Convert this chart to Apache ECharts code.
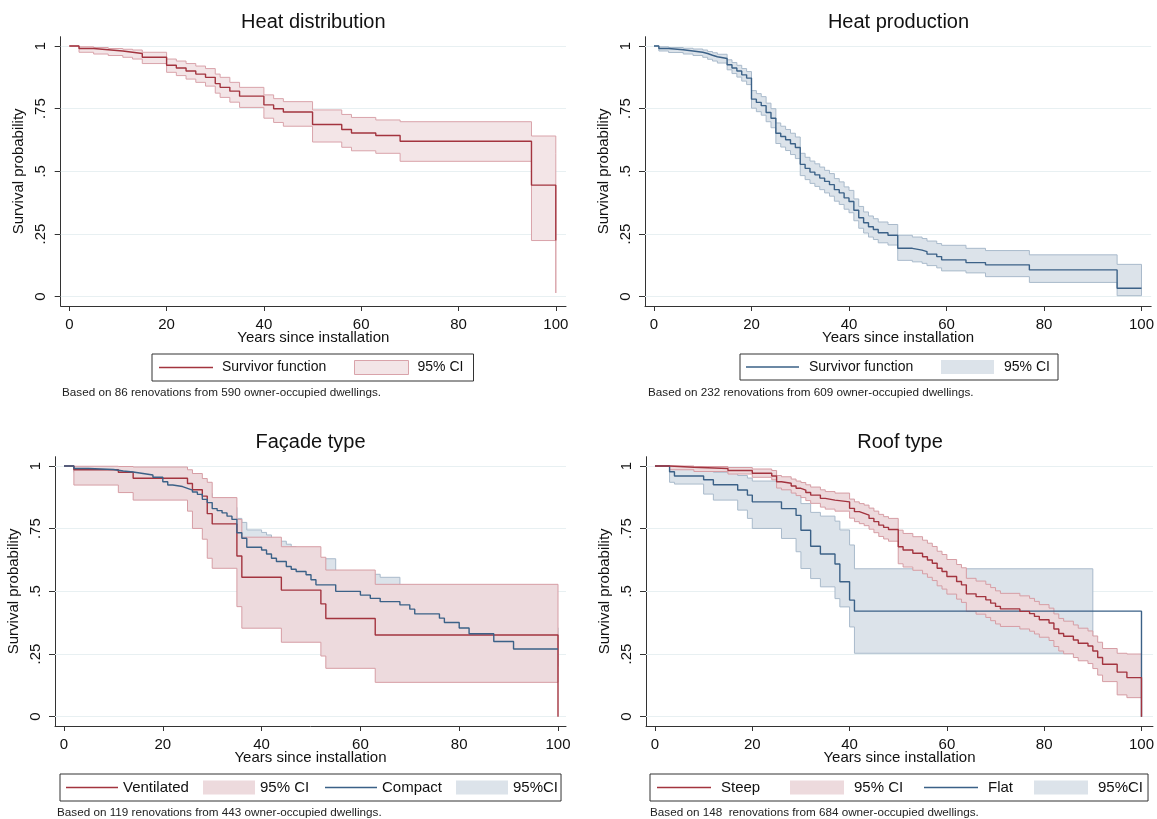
<!DOCTYPE html>
<html>
<head>
<meta charset="utf-8">
<title>Survival by component</title>
<script src="https://cdn.jsdelivr.net/npm/echarts@6/dist/echarts.min.js"></script>
<style>
  html, body { margin: 0; padding: 0; background: #fff; }
  #chart { width: 1157px; height: 819px; }
</style>
</head>
<body>
<div id="chart"></div>
<script>
// ticks shared by all four panels
const xTicks = [0, 20, 40, 60, 80, 100]
const yTicks = [0, 0.25, 0.5, 0.75, 1]

// Heat distribution
const distT = [0, 2, 5, 8, 11, 13, 15, 20, 22, 24, 26, 28, 30, 31, 33, 35, 40, 42, 44, 50, 56, 58, 63, 68, 95, 100]
const distS = [1, .99, .985, .98, .975, .97, .955, .923, .912, .90, .888, .875, .85, .835, .82, .80, .765, .75, .737, .687, .667, .653, .643, .62, .445, .224]
const distHi = [1, .997, .994, .99, .987, .984, .975, .948, .94, .93, .92, .91, .888, .875, .855, .835, .805, .79, .778, .745, .727, .715, .705, .698, .641, .572]
const distLo = [1, .975, .968, .962, .955, .948, .93, .895, .882, .868, .855, .84, .812, .795, .776, .755, .712, .695, .68, .617, .596, .582, .572, .54, .224, .015]

// Heat production
const prodT = [0, 1, 3, 6, 8, 10, 11, 12, 13, 15, 16, 17, 18, 19, 20, 21, 22, 23, 24, 25, 26, 27, 28, 29, 30, 31, 32, 33, 34, 35, 36, 37, 38, 39, 40, 41, 42, 43, 44, 45, 46, 48, 50, 53, 55, 56, 58, 59, 64, 68, 77, 95, 100]
const prodS = [1, .99, .985, .98, .975, .97, .963, .957, .95, .925, .912, .90, .885, .872, .788, .775, .762, .735, .712, .652, .639, .626, .61, .595, .528, .512, .497, .486, .473, .46, .447, .427, .414, .394, .38, .345, .315, .295, .279, .268, .255, .245, .193, .186, .18, .17, .16, .147, .136, .127, .107, .034, .034]
const prodHi = [1, .997, .994, .991, .988, .984, .978, .973, .967, .945, .934, .923, .91, .898, .822, .81, .798, .772, .75, .693, .68, .667, .652, .637, .572, .556, .541, .53, .517, .504, .491, .471, .458, .438, .424, .39, .36, .338, .322, .311, .298, .288, .245, .238, .232, .222, .212, .205, .193, .184, .167, .129, .129]
const prodLo = [1, .98, .974, .968, .962, .955, .947, .94, .932, .905, .89, .876, .86, .846, .752, .738, .724, .698, .674, .611, .597, .583, .567, .551, .483, .467, .452, .44, .427, .414, .401, .381, .368, .349, .335, .303, .273, .254, .238, .228, .215, .206, .145, .139, .133, .124, .115, .103, .095, .08, .057, .004, .004]

// Facade type: ventilated
const ventT = [0, 2, 11, 14, 25, 26, 28, 29, 30, 35, 36, 44, 52, 53, 63, 100]
const ventS = [1, .985, .975, .951, .93, .905, .88, .81, .769, .641, .556, .505, .45, .392, .326, 0]
const ventHi = [1, .999, .998, .996, .985, .97, .95, .935, .874, .787, .716, .678, .636, .585, .528, .528]
const ventLo = [1, .924, .894, .864, .82, .751, .708, .632, .592, .439, .353, .297, .242, .193, .137, .137]

// Facade type: compact
const compT = [0, 2, 5, 10, 12, 14, 16, 18, 20, 21, 22, 24, 25, 26, 27, 28, 29, 30, 31, 32, 33, 34, 35, 36, 37, 40, 41, 42, 43, 45, 46, 47, 49, 50, 51, 55, 60, 62, 64, 68, 70, 71, 76, 77, 80, 82, 87, 91, 100]
const compS = [1, .99, .986, .98, .976, .97, .964, .955, .937, .924, .918, .911, .904, .896, .887, .867, .854, .83, .822, .813, .80, .787, .734, .712, .676, .665, .649, .632, .619, .599, .588, .579, .566, .546, .526, .50, .485, .472, .459, .446, .429, .41, .393, .376, .354, .331, .30, .27, .27]
const compHi = [1, .998, .996, .993, .99, .987, .983, .978, .964, .955, .95, .945, .94, .934, .927, .903, .89, .87, .865, .855, .845, .835, .791, .775, .745, .735, .725, .71, .70, .688, .678, .672, .66, .645, .63, .58, .575, .568, .556, .525, .51, .492, .475, .458, .44, .415, .385, .355, .355]
const compLo = [1, .975, .968, .96, .954, .947, .94, .93, .908, .893, .886, .877, .869, .859, .849, .827, .812, .786, .777, .767, .753, .739, .684, .661, .624, .612, .595, .577, .563, .542, .531, .521, .507, .487, .466, .44, .424, .411, .397, .383, .365, .346, .328, .311, .288, .264, .232, .2, .2]

// Roof type: steep
const steepT = [0, 3, 8, 15, 20, 24, 25, 26, 28, 29, 30, 31, 32, 34, 35, 37, 40, 41, 42, 43, 44, 45, 46, 47, 48, 50, 51, 53, 55, 56, 57, 58, 59, 60, 62, 63, 64, 66, 68, 69, 70, 71, 75, 77, 78, 79, 81, 82, 83, 84, 86, 87, 89, 90, 91, 92, 95, 97, 100]
const steepS = [1, .995, .99, .982, .971, .96, .937, .931, .92, .911, .904, .894, .884, .871, .864, .857, .831, .818, .811, .804, .791, .778, .764, .755, .747, .678, .665, .652, .638, .625, .612, .592, .579, .559, .539, .526, .49, .479, .466, .453, .44, .43, .42, .411, .40, .387, .374, .35, .332, .321, .306, .293, .282, .262, .236, .209, .178, .156, 0]
const steepHi = [1, 1, .998, .994, .988, .982, .962, .957, .948, .94, .934, .925, .916, .905, .898, .892, .868, .857, .85, .844, .832, .82, .807, .798, .791, .744, .731, .718, .704, .692, .679, .66, .647, .627, .607, .594, .552, .541, .528, .515, .502, .492, .482, .472, .46, .447, .433, .41, .392, .381, .366, .353, .342, .322, .297, .272, .253, .25, .25]
const steepLo = [1, .985, .978, .968, .955, .945, .912, .905, .892, .882, .874, .862, .851, .836, .828, .82, .792, .778, .77, .762, .748, .734, .719, .709, .70, .61, .597, .584, .57, .556, .543, .522, .509, .489, .469, .456, .42, .409, .396, .383, .37, .36, .35, .341, .33, .317, .304, .28, .262, .251, .236, .223, .212, .192, .166, .14, .087, .076, .076]

// Roof type: flat (CI stops at 90)
const flatT = [0, 3, 4, 10, 12, 17, 19, 20, 26, 29, 30, 32, 34, 37, 38, 40, 41, 90, 100]
const flatS = [1, .977, .96, .945, .925, .904, .884, .857, .83, .803, .744, .68, .649, .609, .538, .465, .421, .421, 0]
const flatHi = [1, .998, .993, .985, .975, .962, .952, .94, .925, .905, .85, .815, .80, .78, .745, .685, .59, .59, null]
const flatLo = [1, .935, .928, .888, .864, .824, .791, .751, .711, .658, .591, .551, .518, .471, .438, .358, .253, .253, null]

const FONT = '"Liberation Sans", Arial, sans-serif'
const RED = '#a3343f'
const BLUE = '#3b6187'
const BLUE_FILL = '#dce3ea'
const BLUE_EDGE = '#a9bacb'
// plain line key (tiny corner dots keep the path box at full size)
const LINE_ICON = 'path://M0,0H0.01V0.01H0ZM0,6.3H54V7.7H0ZM53.99,13.99H54V14H53.99Z'

// pixel layout of the four panels
const panels = [
  {
    title: 'Heat distribution',
    note: 'Based on 86 renovations from 590 owner-occupied dwellings.',
    x0: 69.3, x100: 555.8, y1: 46, y0: 296.7, axL: 60.7, axR: 566, axT: 36.7, axB: 306,
    titleTop: 12, noteX: 62, noteTop: 387,
    legend: { left: 152, top: 354, padding: [6, 10, 6, 7], iw: 54, fs: 14, sp: 4, widths: [132, 46] },
  },
  {
    title: 'Heat production',
    note: 'Based on 232 renovations from 609 owner-occupied dwellings.',
    x0: 654, x100: 1142.3, y1: 46, y0: 296.7, axL: 645, axR: 1152, axT: 36.7, axB: 306,
    titleTop: 12, noteX: 648, noteTop: 387,
    legend: { left: 740, top: 354, padding: [6, 8, 6, 6], iw: 53, fs: 14, sp: 5, widths: [132, 46] },
  },
  {
    title: 'Façade type',
    note: 'Based on 119 renovations from 443 owner-occupied dwellings.',
    x0: 64, x100: 558, y1: 466, y0: 716.7, axL: 55, axR: 566, axT: 456.7, axB: 726,
    titleTop: 432, noteX: 57, noteTop: 807,
    legend: { left: 60, top: 774, padding: [6, 3, 6, 6], iw: 52, fs: 15, sp: 0, widths: [80, 65, 74, 45] },
  },
  {
    title: 'Roof type',
    note: 'Based on 148  renovations from 684 owner-occupied dwellings.',
    x0: 655, x100: 1142.5, y1: 466, y0: 716.7, axL: 646, axR: 1154, axT: 456.7, axB: 726,
    titleTop: 432, noteX: 650, noteTop: 807,
    legend: { left: 650, top: 774, padding: [6, 5, 6, 7], iw: 54, fs: 15, sp: 5, widths: [69, 70, 46, 45] },
  },
]

const measureCtx = document.createElement('canvas').getContext('2d')
const textWidth = (text, size) => {
  measureCtx.font = size + 'px ' + FONT
  return measureCtx.measureText(text).width
}

// step-shaped confidence band drawn as one polygon through the axis scales
const bandSeries = (name, idx, t, lo, hi, fill, edge, z) => {
  const n = hi.filter((v) => v != null).length
  return {
    name,
    type: 'custom',
    xAxisIndex: idx,
    yAxisIndex: idx,
    z,
    itemStyle: { color: fill },
    data: t.slice(0, n).map((x, i) => [x, lo[i], hi[i]]),
    encode: { x: 0, y: [1, 2] },
    renderItem: (params, api) => {
      if (params.dataIndex !== 0) return null
      const pts = []
      for (let i = 0; i < n - 1; i++) {
        pts.push(api.coord([t[i], hi[i]]), api.coord([t[i + 1], hi[i]]))
      }
      pts.push(api.coord([t[n - 1], hi[n - 1]]))
      pts.push(api.coord([t[n - 1], lo[n - 1]]))
      for (let i = n - 2; i >= 0; i--) {
        pts.push(api.coord([t[i + 1], lo[i]]), api.coord([t[i], lo[i]]))
      }
      return {
        type: 'polygon',
        shape: { points: pts },
        style: { fill, stroke: edge, lineWidth: 1 },
      }
    },
  }
}

const survSeries = (name, idx, t, s, color, z, grid) => {
  const series = {
    name,
    type: 'line',
    xAxisIndex: idx,
    yAxisIndex: idx,
    step: 'end',
    symbol: 'none',
    z,
    itemStyle: { color },
    lineStyle: { color, width: 1.4 },
    data: t.map((x, i) => [x, s[i]]),
  }
  if (grid) {
    series.markLine = {
      silent: true,
      z: 1,
      symbol: ['none', 'none'],
      label: { show: false },
      lineStyle: { color: '#e8f0f2', width: 1, type: 'solid' },
      data: yTicks.map((v) => ({ yAxis: v })),
    }
  }
  return series
}

const series = [
  bandSeries('dist|95% CI', 0, distT, distLo, distHi, '#f3e5e7', '#d9a3aa', 2),
  survSeries('dist|Survivor function', 0, distT, distS, RED, 4, true),

  bandSeries('prod|95% CI', 1, prodT, prodLo, prodHi, BLUE_FILL, BLUE_EDGE, 2),
  survSeries('prod|Survivor function', 1, prodT, prodS, BLUE, 4, true),

  bandSeries('fac|95%CI', 2, compT, compLo, compHi, BLUE_FILL, BLUE_EDGE, 2),
  bandSeries('fac|95% CI', 2, ventT, ventLo, ventHi, '#eddadd', '#d69da4', 2),
  survSeries('fac|Ventilated', 2, ventT, ventS, RED, 4, true),
  survSeries('fac|Compact', 2, compT, compS, BLUE, 5, false),

  bandSeries('roof|95%CI', 3, flatT, flatLo, flatHi, BLUE_FILL, BLUE_EDGE, 2),
  bandSeries('roof|95% CI', 3, steepT, steepLo, steepHi, '#eddadd', '#d69da4', 2),
  survSeries('roof|Flat', 3, flatT, flatS, BLUE, 4, true),
  survSeries('roof|Steep', 3, steepT, steepS, RED, 5, false),
]

const legendNames = [
  ['dist|Survivor function', 'dist|95% CI'],
  ['prod|Survivor function', 'prod|95% CI'],
  ['fac|Ventilated', 'fac|95% CI', 'fac|Compact', 'fac|95%CI'],
  ['roof|Steep', 'roof|95% CI', 'roof|Flat', 'roof|95%CI'],
]

const grids = []
const xAxes = []
const yAxes = []
const titles = []
const legends = []

panels.forEach((p, i) => {
  const xs = (p.x100 - p.x0) / 100
  const ys = p.y0 - p.y1
  grids.push({ left: p.axL, top: p.axT, width: p.axR - p.axL, height: p.axB - p.axT })
  xAxes.push({
    type: 'value',
    gridIndex: i,
    min: -(p.x0 - p.axL) / xs,
    max: 100 + (p.axR - p.x100) / xs,
    axisLine: { show: true, onZero: false, lineStyle: { color: '#333', width: 1 } },
    axisTick: { show: true, customValues: xTicks, length: 5, lineStyle: { color: '#333' } },
    axisLabel: { customValues: xTicks, fontSize: 15, fontFamily: FONT, color: '#111', margin: 11 },
    splitLine: { show: false },
    name: 'Years since installation',
    nameLocation: 'middle',
    nameGap: 24,
    nameMoveOverlap: false,
    nameTextStyle: { fontSize: 15, fontFamily: FONT, color: '#111' },
  })
  yAxes.push({
    type: 'value',
    gridIndex: i,
    min: -(p.axB - p.y0) / ys,
    max: 1 + (p.y1 - p.axT) / ys,
    axisLine: { show: true, onZero: false, lineStyle: { color: '#333', width: 1 } },
    axisTick: { show: true, customValues: yTicks, length: 6, lineStyle: { color: '#333' } },
    axisLabel: {
      customValues: yTicks,
      rotate: 90,
      fontSize: 15,
      fontFamily: FONT,
      color: '#111',
      margin: 12,
      formatter: (v) => (v === 0 || v === 1 ? String(v) : String(v).replace(/^0/, '')),
    },
    splitLine: { show: false },
    name: 'Survival probability',
    nameLocation: 'middle',
    nameGap: 34,
    nameMoveOverlap: false,
    nameTextStyle: { fontSize: 15, fontFamily: FONT, color: '#111' },
  })

  const cx = (p.axL + p.axR) / 2
  titles.push({
    text: p.title,
    left: cx - textWidth(p.title, 20) / 2,
    top: p.titleTop,
    padding: 0,
    textStyle: { fontSize: 20, fontWeight: 'normal', fontFamily: FONT, color: '#111' },
  })
  titles.push({
    text: p.note,
    left: p.noteX,
    top: p.noteTop,
    padding: 0,
    textStyle: { fontSize: 11.7, fontWeight: 'normal', fontFamily: FONT, color: '#222' },
  })

  const lg = p.legend
  const names = legendNames[i]
  const rich = { p: { width: lg.sp, lineHeight: 14, fontSize: lg.fs, fontFamily: FONT } }
  lg.widths.forEach((w, k) => {
    rich['w' + k] = { width: w, lineHeight: 14, fontSize: lg.fs, fontFamily: FONT, color: '#111' }
  })
  legends.push({
    left: lg.left,
    top: lg.top,
    orient: 'horizontal',
    padding: lg.padding,
    itemGap: 0,
    itemWidth: lg.iw,
    itemHeight: 14,
    borderColor: '#333',
    borderWidth: 1,
    borderRadius: 0,
    selectedMode: false,
    data: names.map((name) => {
      if (name.includes('CI')) {
        return {
          name,
          icon: 'rect',
          itemStyle: i === 0 ? { borderColor: '#d9a3aa', borderWidth: 1 } : { borderWidth: 0 },
        }
      }
      return { name, icon: LINE_ICON }
    }),
    formatter: (name) => {
      const k = names.indexOf(name)
      const label = name.split('|')[1]
      return (lg.sp ? '{p| }' : '') + '{w' + k + '|' + label + '}'
    },
    textStyle: { fontSize: lg.fs, fontFamily: FONT, color: '#111', lineHeight: 14, rich },
  })
})

const chart = echarts.init(document.getElementById('chart'), null, { renderer: 'canvas' })
chart.setOption({
  backgroundColor: '#fff',
  animation: false,
  title: titles,
  legend: legends,
  grid: grids,
  xAxis: xAxes,
  yAxis: yAxes,
  series,
})
</script>
</body>
</html>
